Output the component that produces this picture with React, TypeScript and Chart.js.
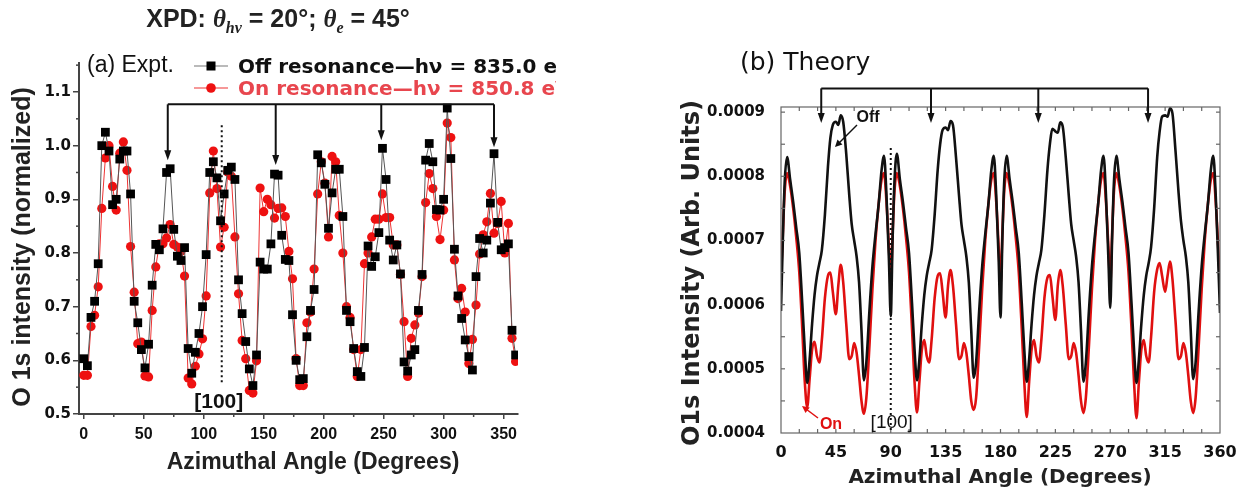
import React, { useEffect, useRef } from 'react';
import { Chart, registerables } from 'chart.js';
Chart.register(...registerables);

// ---------------- (a) Experiment ----------------
const expAngles = [0,3,6,9,12,15,18,21,24,27,30,33,36,39,42,45,48,51,54,57,60,63,66,69,72,75,78,81,84,87,90,93,96,99,102,105,108,111,114,117,120,123,126,129,132,135,138,141,144,147,150,153,156,159,162,165,168,171,174,177,180,183,186,189,192,195,198,201,204,207,210,213,216,219,222,225,228,231,234,237,240,243,246,249,252,255,258,261,264,267,270,273,276,279,282,285,288,291,294,297,300,303,306,309,312,315,318,321,324,327,330,333,336,339,342,345,348,351,354,357,360];
const expOff = [0.603,0.59,0.68,0.71,0.78,1.0,1.025,0.99,0.89,0.9,0.975,0.99,0.99,0.91,0.71,0.67,0.62,0.586,0.63,0.74,0.816,0.806,0.845,0.95,0.957,0.844,0.794,0.786,0.81,0.622,0.576,0.615,0.65,0.7,0.797,0.95,0.97,0.94,0.86,0.91,0.954,0.96,0.937,0.75,0.687,0.635,0.584,0.553,0.61,0.783,0.77,0.77,0.817,0.947,0.945,0.833,0.788,0.786,0.685,0.6,0.564,0.566,0.644,0.693,0.732,0.983,0.968,0.928,0.846,0.912,0.956,0.956,0.868,0.693,0.672,0.622,0.579,0.57,0.624,0.813,0.775,0.793,0.838,0.995,0.937,0.824,0.787,0.815,0.761,0.597,0.58,0.61,0.62,0.693,0.76,0.973,1.004,0.97,0.881,0.88,0.9,1.07,0.976,0.807,0.72,0.678,0.638,0.607,0.582,0.756,0.827,0.8,0.824,0.893,0.985,0.857,0.806,0.81,0.817,0.656,0.61];
const expOn = [0.572,0.572,0.663,0.684,0.737,0.883,0.977,1.0,0.924,0.88,0.986,1.007,0.954,0.812,0.727,0.631,0.634,0.571,0.569,0.693,0.774,0.817,0.817,0.828,0.853,0.816,0.811,0.803,0.757,0.567,0.556,0.589,0.612,0.64,0.72,0.912,0.99,0.92,0.811,0.848,0.951,0.943,0.83,0.724,0.637,0.603,0.544,0.539,0.599,0.921,0.877,0.9,0.89,0.865,0.883,0.884,0.868,0.803,0.752,0.603,0.553,0.553,0.67,0.69,0.77,0.91,0.97,0.93,0.83,0.98,0.97,0.87,0.8,0.7,0.68,0.62,0.57,0.62,0.78,0.8,0.83,0.863,0.863,0.91,0.866,0.866,0.815,0.815,0.76,0.672,0.57,0.641,0.666,0.688,0.756,0.894,0.948,0.92,0.868,0.825,0.88,1.042,1.015,0.787,0.715,0.734,0.69,0.594,0.639,0.703,0.798,0.834,0.858,0.911,0.837,0.855,0.896,0.8,0.855,0.641,0.598];
const expXTicks = [0, 50, 100, 150, 200, 250, 300, 350];
const expYTicks = [0.5, 0.6, 0.7, 0.8, 0.9, 1.0, 1.1];
const expArrowAngles = [70, 160, 248, 342];
const expArrowTips = [0.973, 0.964, 1.01, 0.997];
const expBracketLevel = 1.077;
const expDirAngle = 115;

// ---------------- (b) Theory ----------------
const theoryAngles = [
  0,1.5,3,5,7.5,10,12.5,15,17.5,19.5,21.5,23.5,25.5,27.5,29.5,31.5,33.5,36,38.5,40.5,42.5,45,47,49,51,53.5,56,58,60,62,64,66,68,70,72.5,75,77.5,80,82.5,84.5,86.5,88.5,
  90,91.5,93,95,97.5,100,102.5,105,107.5,109.5,111.5,113.5,115.5,117.5,119.5,121.5,123.5,126,128.5,130.5,132.5,135,137,139,141,143.5,146,148,150,152,154,156,158,160,162.5,165,167.5,170,172.5,174.5,176.5,178.5,
  180,181.5,183,185,187.5,190,192.5,195,197.5,199.5,201.5,203.5,205.5,207.5,209.5,211.5,213.5,216,218.5,220.5,222.5,225,227,229,231,233.5,236,238,240,242,244,246,248,250,252.5,255,257.5,260,262.5,264.5,266.5,268.5,
  270,271.5,273,275,277.5,280,282.5,285,287.5,289.5,291.5,293.5,295.5,297.5,299.5,301.5,303.5,306,308.5,310.5,312.5,315,317,319,321,323.5,326,328,330,332,334,336,338,340,342.5,345,347.5,350,352.5,354.5,356.5,358.5,
  360
];
// values in units of 1e-4
const theoryOff = [
  5.9,7.0,7.9,8.3,7.95,7.6,7.2,6.8,6.0,5.3,4.78,5.15,5.7,6.15,6.45,6.65,6.85,7.4,8.15,8.6,8.8,8.85,8.8,8.95,8.85,8.35,7.7,7.25,7.0,6.75,6.35,5.6,4.82,5.1,5.9,6.6,7.1,7.55,8.1,8.32,7.7,6.7,
  5.82,7.0,7.9,8.35,7.95,7.6,7.2,6.8,6.0,5.3,4.82,5.15,5.7,6.15,6.45,6.65,6.85,7.4,8.1,8.5,8.72,8.76,8.72,8.86,8.8,8.3,7.7,7.25,7.0,6.75,6.35,5.6,4.86,5.1,5.9,6.6,7.1,7.55,8.1,8.32,7.7,6.7,
  5.8,7.0,7.9,8.32,7.95,7.6,7.2,6.8,6.0,5.3,4.8,5.15,5.7,6.15,6.45,6.65,6.85,7.4,8.1,8.5,8.74,8.7,8.68,8.84,8.78,8.3,7.7,7.25,7.0,6.75,6.35,5.6,4.8,5.1,5.9,6.6,7.1,7.55,8.1,8.32,7.7,6.7,
  5.95,7.0,7.9,8.32,7.95,7.6,7.2,6.8,6.0,5.3,4.78,5.15,5.7,6.15,6.45,6.65,6.9,7.5,8.3,8.7,8.93,8.95,8.93,9.06,8.98,8.4,7.75,7.3,7.0,6.75,6.35,5.6,4.84,5.1,5.9,6.6,7.1,7.55,8.1,8.32,7.7,6.7,
  5.87
];
const theoryOn = [
  6.4,7.1,7.75,8.05,7.85,7.5,7.05,6.5,5.6,4.8,4.4,4.85,5.3,5.42,5.2,5.1,5.45,6.1,6.45,6.5,6.2,5.85,6.3,6.62,6.35,5.7,5.15,5.2,5.4,5.25,4.9,4.5,4.3,4.55,5.35,6.25,7.0,7.55,7.95,8.05,7.6,6.9,
  6.35,7.1,7.75,8.05,7.85,7.5,7.05,6.5,5.6,4.8,4.32,4.8,5.3,5.45,5.2,5.1,5.45,6.1,6.45,6.49,6.2,5.8,6.3,6.54,6.3,5.7,5.15,5.2,5.4,5.25,4.9,4.5,4.36,4.55,5.35,6.25,7.0,7.55,7.95,8.05,7.6,6.9,
  6.3,7.1,7.75,8.05,7.85,7.5,7.05,6.5,5.6,4.8,4.25,4.8,5.3,5.45,5.2,5.1,5.45,6.1,6.42,6.46,6.15,5.76,6.3,6.54,6.3,5.7,5.15,5.2,5.4,5.25,4.9,4.5,4.31,4.55,5.35,6.25,7.0,7.55,7.95,8.05,7.6,6.9,
  6.3,7.1,7.75,8.05,7.85,7.5,7.05,6.5,5.6,4.8,4.23,4.8,5.3,5.45,5.2,5.1,5.5,6.2,6.55,6.65,6.45,6.2,6.45,6.67,6.4,5.75,5.15,5.2,5.4,5.25,4.9,4.5,4.31,4.55,5.35,6.25,7.0,7.55,7.95,8.05,7.6,6.9,
  6.27
];
const THEORY_UNIT = 1e-4;
const theoryXTicks = [0, 45, 90, 135, 180, 225, 270, 315, 360];
const theoryYTicks = [0.0004, 0.0005, 0.0006, 0.0007, 0.0008, 0.0009];
const theoryArrowAngles = [33, 123, 211, 301];
const theoryArrowTip = 0.000883;
const theoryBracketLevel = 0.000937;
const theoryDirAngle = 90;

const SANS = '"Liberation Sans", Arial, sans-serif';
const DEJA = '"DejaVu Sans", sans-serif';
const SERIF = '"Liberation Serif", serif';

type Part = { t: string; font: string; dy?: number; color?: string };
function drawRich(ctx: CanvasRenderingContext2D, parts: Part[], x: number, y: number, align: 'center' | 'left') {
  let total = 0;
  for (const p of parts) { ctx.font = p.font; total += ctx.measureText(p.t).width; }
  let cx = align === 'center' ? x - total / 2 : x;
  ctx.textAlign = 'left';
  ctx.textBaseline = 'alphabetic';
  for (const p of parts) {
    ctx.font = p.font;
    ctx.fillStyle = p.color || '#222';
    ctx.fillText(p.t, cx, y + (p.dy || 0));
    cx += ctx.measureText(p.t).width;
  }
}

function arrowHead(ctx: CanvasRenderingContext2D, x: number, y: number, angle: number, len: number, half: number) {
  ctx.save();
  ctx.translate(x, y);
  ctx.rotate(angle);
  ctx.beginPath();
  ctx.moveTo(0, 0);
  ctx.lineTo(-len, -half);
  ctx.lineTo(-len, half);
  ctx.closePath();
  ctx.fill();
  ctx.restore();
}

function drawBracket(ctx: CanvasRenderingContext2D, xs: number[], top: number, tips: number[]) {
  ctx.save();
  ctx.strokeStyle = '#111';
  ctx.fillStyle = '#111';
  ctx.lineWidth = 2;
  ctx.beginPath();
  ctx.moveTo(xs[0], top);
  ctx.lineTo(xs[xs.length - 1], top);
  ctx.stroke();
  xs.forEach((x, i) => {
    ctx.beginPath();
    ctx.moveTo(x, top);
    ctx.lineTo(x, tips[i] - 8);
    ctx.stroke();
    arrowHead(ctx, x, tips[i], Math.PI / 2, 10, 3.5);
  });
  ctx.restore();
}

const leftPlugin = {
  id: 'leftDecor',
  afterDraw(chart: any) {
    const ctx: CanvasRenderingContext2D = chart.ctx;
    const xs = chart.scales.x;
    const ys = chart.scales.y;
    const area = chart.chartArea;
    ctx.save();
    // minor ticks
    ctx.strokeStyle = '#444';
    ctx.lineWidth = 1.5;
    for (let v = 25; v < 362; v += 50) {
      const px = xs.getPixelForValue(v);
      ctx.beginPath(); ctx.moveTo(px, area.bottom); ctx.lineTo(px, area.bottom + 3); ctx.stroke();
    }
    for (let v = 0.55; v < 1.16; v += 0.1) {
      const py = ys.getPixelForValue(v);
      ctx.beginPath(); ctx.moveTo(area.left, py); ctx.lineTo(area.left - 3, py); ctx.stroke();
    }
    // title
    drawRich(ctx, [
      { t: 'XPD: ', font: `bold 25px ${SANS}` },
      { t: 'θ', font: `italic bold 25px ${SERIF}` },
      { t: 'hν', font: `italic bold 16px ${SERIF}`, dy: 6 },
      { t: ' = 20°; ', font: `bold 25px ${SANS}` },
      { t: 'θ', font: `italic bold 25px ${SERIF}` },
      { t: 'e', font: `italic bold 16px ${SERIF}`, dy: 6 },
      { t: ' = 45°', font: `bold 25px ${SANS}` },
    ], 278, 27, 'center');
    // panel label
    drawRich(ctx, [{ t: '(a) Expt.', font: `23px ${SANS}`, color: '#111' }], 87, 72, 'left');
    // legend
    ctx.strokeStyle = '#777'; ctx.lineWidth = 1.2;
    ctx.beginPath(); ctx.moveTo(194, 66); ctx.lineTo(228, 66); ctx.stroke();
    ctx.fillStyle = '#000'; ctx.fillRect(206.5, 61.5, 9, 9);
    ctx.strokeStyle = '#e33'; ctx.beginPath(); ctx.moveTo(194, 88); ctx.lineTo(228, 88); ctx.stroke();
    ctx.fillStyle = '#ee1111'; ctx.beginPath(); ctx.arc(211, 88, 4.8, 0, Math.PI * 2); ctx.fill();
    drawRich(ctx, [{ t: 'Off resonance—hν = 835.0 eV', font: `bold 20px ${DEJA}`, color: '#111' }], 238, 73, 'left');
    drawRich(ctx, [{ t: 'On resonance—hν = 850.8 eV', font: `bold 20px ${DEJA}`, color: '#e8464e' }], 238, 95, 'left');
    // axis titles
    ctx.save();
    ctx.translate(23, 247);
    ctx.rotate(-Math.PI / 2);
    ctx.font = `bold 25px ${SANS}`; ctx.fillStyle = '#222'; ctx.textAlign = 'center'; ctx.textBaseline = 'middle';
    ctx.fillText('O 1s intensity (normalized)', 0, 0);
    ctx.restore();
    ctx.font = `bold 23px ${SANS}`; ctx.fillStyle = '#222'; ctx.textAlign = 'center'; ctx.textBaseline = 'middle';
    ctx.fillText('Azimuthal Angle (Degrees)', 313, 463);
    // arrows
    drawBracket(ctx, expArrowAngles.map(a => xs.getPixelForValue(a)), ys.getPixelForValue(expBracketLevel), expArrowTips.map(v => ys.getPixelForValue(v)));
    // [100] direction
    const dx = xs.getPixelForValue(expDirAngle);
    ctx.strokeStyle = '#111'; ctx.lineWidth = 2; ctx.setLineDash([2, 3]);
    ctx.beginPath(); ctx.moveTo(dx, ys.getPixelForValue(1.038)); ctx.lineTo(dx, ys.getPixelForValue(0.558)); ctx.stroke();
    ctx.setLineDash([]);
    ctx.font = `bold 21px ${SANS}`; ctx.fillStyle = '#111'; ctx.textAlign = 'center'; ctx.textBaseline = 'middle';
    ctx.fillText('[100]', dx - 3, 402);
    ctx.restore();
  },
};

const rightPlugin = {
  id: 'rightDecor',
  afterDraw(chart: any) {
    const ctx: CanvasRenderingContext2D = chart.ctx;
    const xs = chart.scales.x;
    const ys = chart.scales.y;
    const a = chart.chartArea;
    ctx.save();
    // box and inward ticks
    ctx.strokeStyle = '#666'; ctx.lineWidth = 1.2;
    ctx.strokeRect(a.left, a.top, a.right - a.left, a.bottom - a.top);
    for (let v = 15; v < 360; v += 15) {
      const px = xs.getPixelForValue(v);
      ctx.beginPath(); ctx.moveTo(px, a.bottom); ctx.lineTo(px, a.bottom - 4); ctx.stroke();
      ctx.beginPath(); ctx.moveTo(px, a.top); ctx.lineTo(px, a.top + 4); ctx.stroke();
    }
    for (let v = 0.00045; v < 0.00091; v += 0.00005) {
      const py = ys.getPixelForValue(v);
      ctx.beginPath(); ctx.moveTo(a.left, py); ctx.lineTo(a.left + 4, py); ctx.stroke();
      ctx.beginPath(); ctx.moveTo(a.right, py); ctx.lineTo(a.right - 4, py); ctx.stroke();
    }
    // titles
    drawRich(ctx, [{ t: '(b) Theory', font: `25px ${DEJA}`, color: '#111' }], 184, 70, 'left');
    ctx.save();
    ctx.translate(137, 273);
    ctx.rotate(-Math.PI / 2);
    ctx.font = `bold 24px ${DEJA}`; ctx.fillStyle = '#222'; ctx.textAlign = 'center'; ctx.textBaseline = 'middle';
    ctx.fillText('O1s Intensity (Arb. Units)', 0, 0);
    ctx.restore();
    ctx.font = `bold 20px ${DEJA}`; ctx.fillStyle = '#222'; ctx.textAlign = 'center'; ctx.textBaseline = 'middle';
    ctx.fillText('Azimuthal Angle (Degrees)', 444, 478);
    // arrows
    drawBracket(ctx, theoryArrowAngles.map(v => xs.getPixelForValue(v)), ys.getPixelForValue(theoryBracketLevel), theoryArrowAngles.map(() => ys.getPixelForValue(theoryArrowTip)));
    // Off label + arrow
    ctx.font = `bold 16px ${SANS}`; ctx.fillStyle = '#111'; ctx.textAlign = 'center'; ctx.textBaseline = 'middle';
    ctx.fillText('Off', 312, 118);
    ctx.strokeStyle = '#111'; ctx.fillStyle = '#111'; ctx.lineWidth = 1.5;
    ctx.beginPath(); ctx.moveTo(301, 125); ctx.lineTo(283, 143); ctx.stroke();
    arrowHead(ctx, 279, 147, Math.atan2(22, -22), 7, 3.5);
    // On label + arrow
    ctx.font = `bold 16px ${SANS}`; ctx.fillStyle = '#e01010';
    ctx.fillText('On', 275, 425);
    ctx.strokeStyle = '#e01010'; ctx.fillStyle = '#e01010';
    ctx.beginPath(); ctx.moveTo(262, 418); ctx.lineTo(250, 409); ctx.stroke();
    arrowHead(ctx, 246, 406, Math.atan2(-12, -16), 7, 3.5);
    // [100]
    const dx = xs.getPixelForValue(theoryDirAngle);
    ctx.strokeStyle = '#111'; ctx.lineWidth = 2; ctx.setLineDash([2, 3]);
    ctx.beginPath(); ctx.moveTo(dx, ys.getPixelForValue(0.000844)); ctx.lineTo(dx, a.bottom); ctx.stroke();
    ctx.setLineDash([]);
    ctx.font = `19px ${SANS}`; ctx.fillStyle = '#111'; ctx.textAlign = 'center'; ctx.textBaseline = 'middle';
    ctx.fillText('[100]', dx + 1, 423);
    ctx.restore();
  },
};

function LeftChart() {
  const ref = useRef<HTMLCanvasElement>(null);
  useEffect(() => {
    const chart = new Chart(ref.current!, {
      type: 'line',
      data: {
        datasets: [
          {
            label: 'Off resonance—hν = 835.0 eV',
            data: expAngles.map((a, i) => ({ x: a, y: expOff[i] })),
            borderColor: '#555', borderWidth: 1, pointStyle: 'rect', pointRadius: 6.2,
            pointBackgroundColor: '#000', pointBorderColor: '#000', pointBorderWidth: 0, tension: 0,
          },
          {
            label: 'On resonance—hν = 850.8 eV',
            data: expAngles.map((a, i) => ({ x: a, y: expOn[i] })),
            borderColor: '#e33', borderWidth: 1, pointStyle: 'circle', pointRadius: 4.6,
            pointBackgroundColor: '#ee1111', pointBorderColor: '#ee1111', pointBorderWidth: 0, tension: 0,
          },
        ],
      },
      options: {
        responsive: false, animation: false, events: [],
        layout: { padding: { left: 0, top: 63, right: 38, bottom: 0 } },
        plugins: { legend: { display: false }, tooltip: { enabled: false }, title: { display: false } },
        scales: {
          x: {
            type: 'linear', min: -4, max: 362,
            afterFit: (s: any) => { s.height = 82; },
            afterBuildTicks: (s: any) => { s.ticks = expXTicks.map(v => ({ value: v })); },
            grid: { display: true, drawOnChartArea: false, tickLength: 5, color: '#444', lineWidth: 1.5 },
            border: { display: true, color: '#444', width: 2 },
            ticks: { font: { family: SANS, size: 16, weight: 'bold' }, color: '#111', padding: 6, maxRotation: 0 },
          },
          y: {
            type: 'linear', min: 0.5, max: 1.154,
            afterFit: (s: any) => { s.width = 79; },
            afterBuildTicks: (s: any) => { s.ticks = expYTicks.map(v => ({ value: v })); },
            grid: { display: true, drawOnChartArea: false, tickLength: 6, color: '#444', lineWidth: 1.5 },
            border: { display: true, color: '#444', width: 2 },
            ticks: { font: { family: DEJA, size: 15, weight: 'bold' }, color: '#111', padding: 2, callback: (v: any) => Number(v).toFixed(1) },
          },
        },
      },
      plugins: [leftPlugin],
    } as any);
    return () => chart.destroy();
  }, []);
  return <canvas ref={ref} width={556} height={496} style={{ position: 'absolute', left: 0, top: 0, width: 556, height: 496 }} />;
}

function RightChart() {
  const ref = useRef<HTMLCanvasElement>(null);
  useEffect(() => {
    const chart = new Chart(ref.current!, {
      type: 'line',
      data: {
        datasets: [
          {
            label: 'Off',
            data: theoryAngles.map((a, i) => ({ x: a, y: theoryOff[i] * THEORY_UNIT })),
            borderColor: '#111', borderWidth: 2.6, pointRadius: 0, cubicInterpolationMode: 'monotone',
          },
          {
            label: 'On',
            data: theoryAngles.map((a, i) => ({ x: a, y: theoryOn[i] * THEORY_UNIT })),
            borderColor: '#e01010', borderWidth: 2.6, pointRadius: 0, cubicInterpolationMode: 'monotone',
          },
        ],
      },
      options: {
        responsive: false, animation: false, events: [],
        layout: { padding: { left: 0, top: 107, right: 24, bottom: 0 } },
        plugins: { legend: { display: false }, tooltip: { enabled: false }, title: { display: false } },
        scales: {
          x: {
            type: 'linear', min: 0, max: 360,
            afterFit: (s: any) => { s.height = 63; },
            afterBuildTicks: (s: any) => { s.ticks = theoryXTicks.map(v => ({ value: v })); },
            grid: { display: false },
            border: { display: false },
            ticks: { font: { family: DEJA, size: 16, weight: 'bold' }, color: '#111', padding: 2, maxRotation: 0 },
          },
          y: {
            type: 'linear', min: 0.0004, max: 0.000908,
            afterFit: (s: any) => { s.width = 225; },
            afterBuildTicks: (s: any) => { s.ticks = theoryYTicks.map(v => ({ value: v })); },
            grid: { display: false },
            border: { display: false },
            ticks: { font: { family: DEJA, size: 15, weight: 'bold' }, color: '#111', padding: 8, callback: (v: any) => Number(v).toFixed(4) },
          },
        },
      },
      plugins: [rightPlugin],
    } as any);
    return () => chart.destroy();
  }, []);
  return <canvas ref={ref} width={688} height={496} style={{ position: 'absolute', left: 556, top: 0, width: 688, height: 496 }} />;
}

export default function App() {
  return (
    <div style={{ position: 'absolute', left: 0, top: 0, width: 1244, height: 496, background: '#fff', overflow: 'hidden' }}>
      <LeftChart />
      <RightChart />
    </div>
  );
}
